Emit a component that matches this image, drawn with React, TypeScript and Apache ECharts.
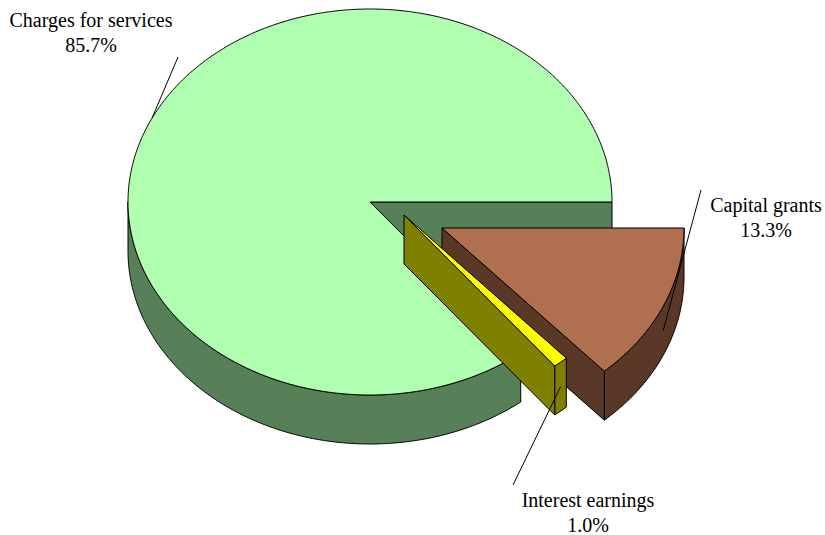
import React, { useEffect, useRef } from "react";
import * as echarts from "echarts";

// ---- data ----
const categories = ["Charges for services", "Interest earnings", "Capital grants"];
const values = [85.7, 1.0, 13.3];

// ---- styles / layout (not data) ----
const topColors = ["#B0FFB0", "#FFFF00", "#B07050"];
const sideColors = ["#588058", "#808000", "#5A3828"];
const PIE = { cx: 370, cy: 202, rx: 242, ry: 193, depth: 49 };
const explodeOffsets = [
  [0, 0],
  [34, 13],
  [72, 26],
];
const drawOrder = [0, 2, 1];
const labelLayout = [
  { x: 91, y1: 20, y2: 45, from: [178, 57] },
  { x: 588, y1: 500, y2: 525, from: [513, 485] },
  { x: 766, y1: 205, y2: 230, from: [701, 190] },
];
const FONT_FAMILY = '"Liberation Serif", "Times New Roman", serif';

const total = values.reduce((a, b) => a + b, 0);
function sliceAngles(i: number) {
  let a0 = 0;
  for (let j = 0; j < i; j++) a0 += (values[j] / total) * Math.PI * 2;
  const a1 = a0 + (values[i] / total) * Math.PI * 2;
  return [a0, a1];
}

function geometry(i: number) {
  const [ox, oy] = explodeOffsets[i];
  const cx = PIE.cx + ox;
  const cy = PIE.cy + oy;
  const pt = (t: number, d = 0) => [cx + PIE.rx * Math.cos(t), cy - PIE.ry * Math.sin(t) + d];
  const arc = (s: number, e: number, d: number) => {
    const n = Math.max(2, Math.ceil(Math.abs(e - s) / (Math.PI / 360)));
    const pts: number[][] = [];
    for (let k = 0; k <= n; k++) pts.push(pt(s + ((e - s) * k) / n, d));
    return pts;
  };
  return { cx, cy, pt, arc };
}

export default function App() {
  const ref = useRef<HTMLDivElement>(null);
  useEffect(() => {
    if (!ref.current) return;
    const chart = echarts.init(ref.current, undefined, { renderer: "svg" });
    const stroke = { stroke: "#000", lineWidth: 1 };

    const renderSlice = (params: any, api: any) => {
      const i = api.value(1);
      const [a0, a1] = sliceAngles(i);
      const { cx, cy, pt, arc } = geometry(i);
      const D = PIE.depth;
      const children: any[] = [];
      // outer side (front half only)
      const s = Math.max(a0, Math.PI);
      const e = Math.min(a1, Math.PI * 2);
      if (e > s) {
        children.push({
          type: "polygon",
          shape: { points: arc(s, e, 0).concat(arc(e, s, D)) },
          style: { fill: sideColors[i], ...stroke },
        });
      }
      // radial faces
      const face = (t: number) => ({
        type: "polygon",
        shape: { points: [[cx, cy], pt(t), pt(t, D), [cx, cy + D]] },
        style: { fill: sideColors[i], ...stroke },
      });
      if (Math.cos(a0) > 1e-6) children.push(face(a0));
      if (Math.cos(a1) < -1e-6) children.push(face(a1));
      // top
      children.push({
        type: "polygon",
        shape: { points: [[cx, cy]].concat(arc(a0, a1, 0)) },
        style: { fill: topColors[i], ...stroke },
      });
      return { type: "group", children };
    };

    const renderLabel = (params: any, api: any) => {
      const i = api.value(1);
      const v = api.value(0);
      const [a0, a1] = sliceAngles(i);
      const mid = (a0 + a1) / 2;
      const { pt } = geometry(i);
      const anchor = Math.sin(mid) > 0 ? pt(mid, 0) : pt(mid, PIE.depth / 2);
      const L = labelLayout[i];
      const textStyle = {
        fill: "#000",
        fontSize: 20,
        fontFamily: FONT_FAMILY,
        align: "center",
        verticalAlign: "middle",
      };
      return {
        type: "group",
        children: [
          {
            type: "line",
            shape: { x1: L.from[0], y1: L.from[1], x2: anchor[0], y2: anchor[1] },
            style: { stroke: "#000", lineWidth: 1 },
          },
          { type: "text", style: { text: categories[i], x: L.x, y: L.y1, ...textStyle } },
          { type: "text", style: { text: v.toFixed(1) + "%", x: L.x, y: L.y2, ...textStyle } },
        ],
      };
    };

    chart.setOption({
      animation: false,
      backgroundColor: "#fff",
      series: [
        {
          type: "custom",
          coordinateSystem: "none",
          renderItem: renderSlice,
          data: drawOrder.map((i) => ({ name: categories[i], value: [values[i], i] })),
          silent: true,
          z: 2,
        },
        {
          type: "custom",
          coordinateSystem: "none",
          renderItem: renderLabel,
          data: values.map((v, i) => ({ name: categories[i], value: [v, i] })),
          silent: true,
          z: 3,
        },
      ],
    });
    return () => chart.dispose();
  }, []);

  return (
    <div
      ref={ref}
      style={{ position: "fixed", left: 0, top: 0, width: 825, height: 535, background: "#fff" }}
    />
  );
}
